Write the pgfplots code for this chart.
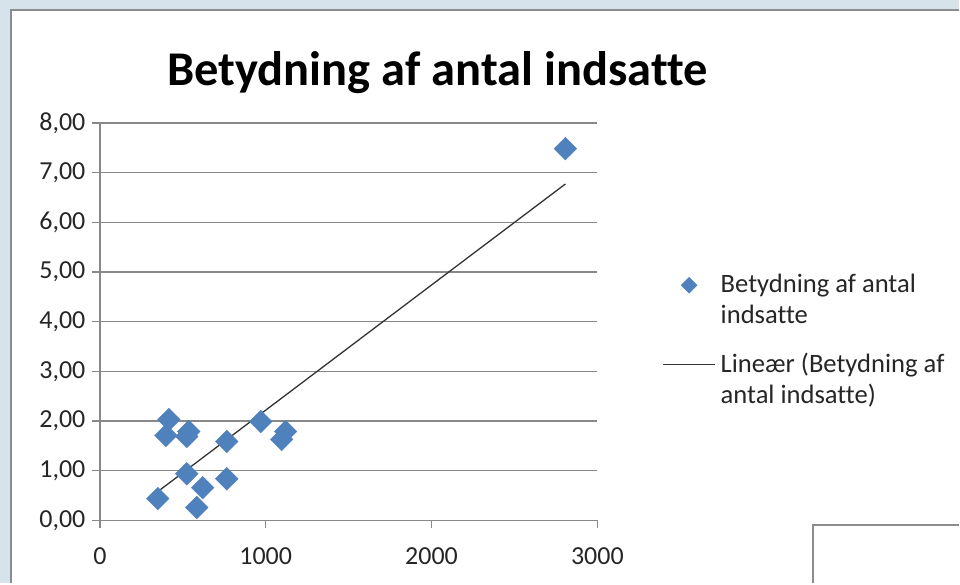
\documentclass[border=0pt]{standalone}
\usepackage{pgfplots}
\pgfplotsset{compat=1.18}
\usepackage{fontspec}
\setmainfont{Carlito}[Ligatures={NoCommon}]
\definecolor{bgblue}{HTML}{D6E3EB}
\definecolor{framegray}{HTML}{8C8C8C}
\definecolor{mkblue}{HTML}{4F81BD}
\definecolor{gridgray}{HTML}{888888}
\definecolor{txt}{HTML}{262626}
\pgfplotsset{
  scatterleg/.style={legend image code/.code={\draw[mark repeat=2, mark phase=2, ##1, mark size=5.6pt] plot coordinates {(0pt,14pt) (26pt,14pt) (52pt,14pt)};}},
  lineleg/.style={legend image code/.code={\draw[##1] (0pt,14pt) -- (52pt,14pt);}},
}
\begin{document}
\begin{tikzpicture}[x=1pt,y=1pt]
\fill[bgblue] (0,0) rectangle (960,584);
\fill[white] (11,0) rectangle (960,574);
\draw[framegray, line width=2pt] (11,0) -- (11,574) -- (960,574);
\draw[framegray, line width=2pt] (814,0) -- (814,58) -- (960,58);
\node[anchor=base, font=\bfseries\fontsize{48.5}{56}\selectfont] at (438,498) {Betydning af antal indsatte};
\begin{axis}[
  at={(100pt,63pt)}, anchor=south west,
  scale only axis, width=498pt, height=398pt,
  xmin=0, xmax=3000, ymin=0, ymax=8,
  xtick={0,1000,2000,3000}, ytick={0,1,...,8},
  axis x line=bottom, axis y line=left,
  axis line style={draw=gridgray, line width=1.3pt, -},
  tick align=outside, major tick length=8pt,
  tick style={draw=gridgray, line width=1.3pt},
  ymajorgrids, grid style={draw=gridgray, line width=1.3pt},
  /pgf/number format/assume math mode=true,
  tick label style={font=\fontsize{26}{30}\selectfont, text=txt},
  yticklabel style={xshift=-3pt, /pgf/number format/.cd, fixed, fixed zerofill, precision=2, use comma},
  xticklabel style={yshift=-16pt, /pgf/number format/1000 sep={}},
  clip=false,
  legend style={at={(1.1305,0.621)}, anchor=north west, draw=none, fill=none,
    inner sep=0pt, font=\fontsize{26.6}{31}\selectfont, text=txt,
    nodes={inner sep=0pt}, cells={align=left, anchor=west},
    row sep=28pt, column sep=5pt},
  legend cell align=left,
]
\addplot[only marks, mark=square*, mark size=8pt,
  mark options={rotate=45, fill=mkblue, draw=mkblue}, scatterleg]
coordinates {
(349,0.44) (416,2.03) (398,1.71) (524,1.69) (536,1.79) (524,0.94) (620,0.66)
(584,0.26) (765,1.59) (765,0.84) (970,1.99) (1096,1.63) (1120,1.79) (2807,7.48)
};
\addlegendentry{Betydning af antal\\indsatte}
\addplot[draw=black!80, line width=1.3pt, lineleg]
coordinates {(349,0.58) (2807,6.77)};
\addlegendentry{Lineær (Betydning af\\antal indsatte)}
\end{axis}
\end{tikzpicture}
\end{document}
